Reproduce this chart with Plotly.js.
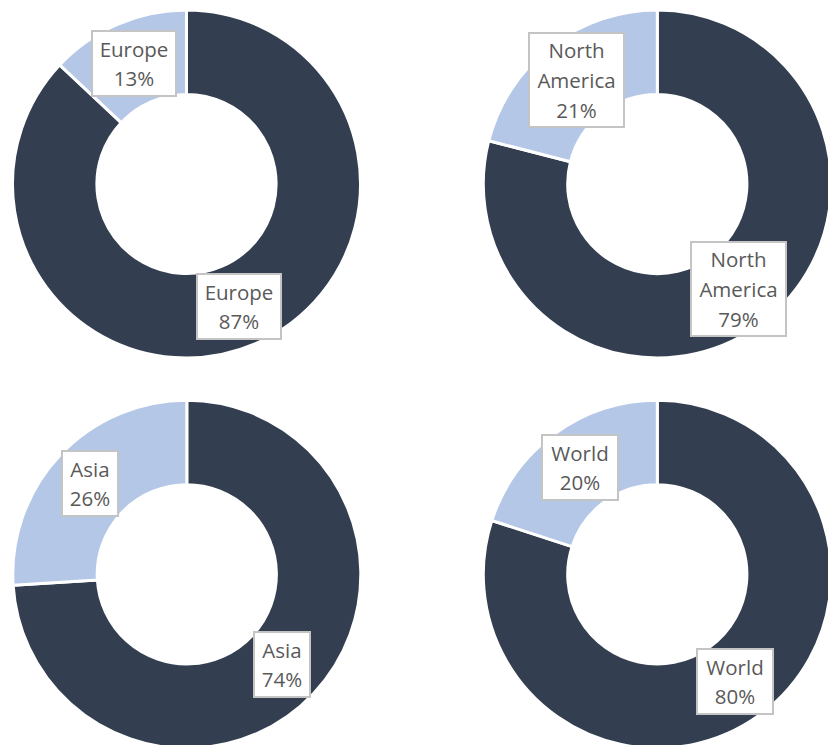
<!DOCTYPE html>
<html>
<head>
<meta charset="utf-8">
<script src="https://cdn.plot.ly/plotly-3.0.1.min.js"></script>
<style>
  html, body { margin: 0; padding: 0; overflow: hidden; background: #fff; }
  #chart { width: 840px; height: 760px; }
</style>
</head>
<body>
<div id="chart"></div>
<script>
// ---- data ----
var regions = ['Europe', 'North America', 'Asia', 'World'];
var mainShare = [87, 79, 74, 80];   // dark slice (%)
var restShare = [13, 21, 26, 20];   // light slice (%)

// ---- layout helpers (pixels) ----
var W = 840, H = 760;
var centers = [[186.5, 184], [657.3, 184], [186.8, 574.3], [657.3, 574.3]];
var R = 174;
// label box centers: [light slice label, dark slice label]
var labelPos = [
  [[134, 63.5], [238.5, 306]],
  [[576.5, 80], [738, 289]],
  [[90, 483.5], [282, 664.5]],
  [[579.5, 467.5], [735, 681]]
];
// outer box widths per region
var boxW = [86, 97, 58, 78];

var DARK = '#333F50', LIGHT = '#B4C7E7';

function labelText(name, v) {
  return '<span style="font-size:20.5px">' + name.replace(' ', '<br>') + '<br>' + v + '%</span>';
}

var traces = [], annotations = [];
regions.forEach(function (name, i) {
  var c = centers[i];
  traces.push({
    type: 'pie',
    values: [mainShare[i], restShare[i]],
    labels: [name + ' ', name],
    hole: 0.515,
    sort: false,
    direction: 'clockwise',
    rotation: 0,
    textinfo: 'none',
    textposition: 'none',
    hoverinfo: 'none',
    showlegend: false,
    marker: { colors: [DARK, LIGHT], line: { color: '#ffffff', width: 3 } },
    domain: {
      x: [(c[0] - R) / W, (c[0] + R) / W],
      y: [1 - (c[1] + R) / H, 1 - (c[1] - R) / H]
    }
  });
  var vals = [restShare[i], mainShare[i]];
  var nLines = name.split(' ').length + 1;
  labelPos[i].forEach(function (p, k) {
    annotations.push({
      xref: 'paper', yref: 'paper',
      x: p[0] / W, y: 1 - p[1] / H,
      xanchor: 'center', yanchor: 'middle',
      text: labelText(name, vals[k]),
      showarrow: false,
      align: 'center',
      valign: 'middle',
      width: boxW[i] - 4,
      height: (nLines === 3 ? 96 : 67) - 4,
      font: { family: 'Open Sans, sans-serif', size: 23, color: '#595959' },
      bgcolor: '#ffffff',
      bordercolor: '#C4C4C4',
      borderwidth: 2,
      borderpad: 0
    });
  });
});

var layout = {
  width: W, height: H,
  margin: { l: 0, r: 0, t: 0, b: 0, pad: 0 },
  paper_bgcolor: '#ffffff',
  plot_bgcolor: '#ffffff',
  annotations: annotations,
  showlegend: false
};

Plotly.newPlot('chart', traces, layout, { displayModeBar: false, staticPlot: true });
</script>
</body>
</html>
